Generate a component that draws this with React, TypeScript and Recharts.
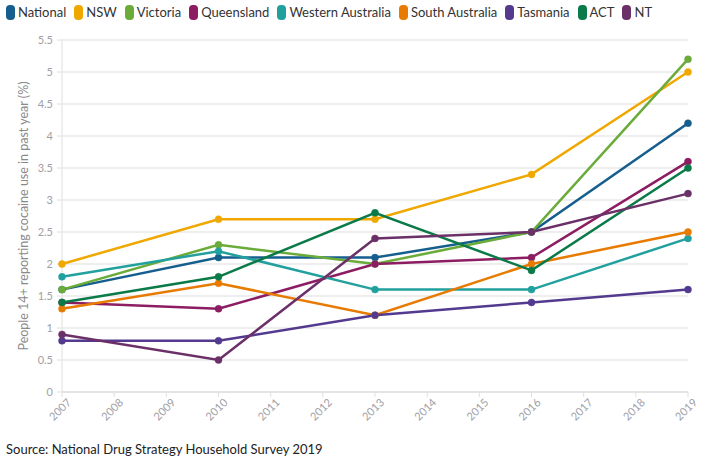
import React from "react";
import { LineChart, Line, XAxis, YAxis, CartesianGrid } from "recharts";

const years = [2007, 2010, 2013, 2016, 2019];
const yearTicks = [2007, 2008, 2009, 2010, 2011, 2012, 2013, 2014, 2015, 2016, 2017, 2018, 2019];
const yTicks = [0, 0.5, 1, 1.5, 2, 2.5, 3, 3.5, 4, 4.5, 5, 5.5];

const national = [1.6, 2.1, 2.1, 2.5, 4.2];
const nsw = [2.0, 2.7, 2.7, 3.4, 5.0];
const victoria = [1.6, 2.3, 2.0, 2.5, 5.2];
const queensland = [1.4, 1.3, 2.0, 2.1, 3.6];
const westernAustralia = [1.8, 2.2, 1.6, 1.6, 2.4];
const southAustralia = [1.3, 1.7, 1.2, 2.0, 2.5];
const tasmania = [0.8, 0.8, 1.2, 1.4, 1.6];
const act = [1.4, 1.8, 2.8, 1.9, 3.5];
const nt = [0.9, 0.5, 2.4, 2.5, 3.1];

const series = [
  { key: "National", values: national, color: "#155e8e" },
  { key: "NSW", values: nsw, color: "#f0a800" },
  { key: "Victoria", values: victoria, color: "#6aab3a" },
  { key: "Queensland", values: queensland, color: "#8c1d62" },
  { key: "Western Australia", values: westernAustralia, color: "#21a09e" },
  { key: "South Australia", values: southAustralia, color: "#e87a00" },
  { key: "Tasmania", values: tasmania, color: "#533a8f" },
  { key: "ACT", values: act, color: "#0a7a48" },
  { key: "NT", values: nt, color: "#6b3068" },
];

const data = years.map((y, i) => {
  const row: Record<string, number> = { year: y };
  series.forEach((s) => {
    row[s.key] = s.values[i];
  });
  return row;
});

const FONT = "Lato, 'Open Sans', sans-serif";

const XTick = (props: any) => {
  const { x, y, payload } = props;
  return (
    <g transform={`translate(${x},${y})`}>
      <text
        x={0}
        y={0}
        dy={10}
        dx={4}
        textAnchor="end"
        fill="#a0a0a8"
        fontSize={11}
        fontFamily={FONT}
        transform="rotate(-45)"
      >
        {payload.value}
      </text>
    </g>
  );
};

export default function App() {
  return (
    <div
      style={{
        position: "absolute",
        left: 0,
        top: 0,
        width: 708,
        height: 458,
        background: "#fff",
        fontFamily: FONT,
      }}
    >
      <div
        style={{
          position: "absolute",
          left: 6,
          top: 4,
          display: "flex",
          alignItems: "center",
          fontSize: 13,
          color: "#333",
          whiteSpace: "nowrap",
        }}
      >
        {series.map((s) => (
          <div key={s.key} style={{ display: "flex", alignItems: "center", marginRight: 8 }}>
            <span
              style={{
                display: "inline-block",
                width: 9,
                height: 15,
                borderRadius: 4,
                background: s.color,
                marginRight: 3,
              }}
            />
            <span>{s.key}</span>
          </div>
        ))}
      </div>
      <div style={{ position: "absolute", left: 0, top: 0 }}>
        <LineChart
          width={708}
          height={431}
          data={data}
          margin={{ top: 40, right: 20, bottom: 0, left: 10 }}
        >
          <CartesianGrid vertical={false} stroke="#e8e8e8" strokeWidth={1.5} />
          <XAxis
            dataKey="year"
            type="number"
            domain={[2007, 2019]}
            ticks={yearTicks}
            interval={0}
            height={39}
            tick={<XTick />}
            tickSize={5}
            stroke="#e0e0e0"
            axisLine={{ stroke: "#e0e0e0", strokeWidth: 1.5 }}
            tickLine={{ stroke: "#e0e0e0" }}
          />
          <YAxis
            type="number"
            domain={[0, 5.5]}
            ticks={yTicks}
            interval={0}
            width={52}
            tickSize={5}
            tickMargin={4}
            axisLine={{ stroke: "#e0e0e0" }}
            tickLine={{ stroke: "#e0e0e0" }}
            tick={{ fill: "#a0a0a8", fontSize: 11, fontFamily: FONT }}
            label={{
              value: "People 14+ reporting cocaine use in past year (%)",
              angle: -90,
              position: "insideLeft",
              offset: 0,
              dx: 14,
              style: { textAnchor: "middle", fill: "#8a8a8a", fontSize: 12.5, fontFamily: FONT },
            }}
          />
          {series.map((s) => (
            <Line
              key={s.key}
              dataKey={s.key}
              stroke={s.color}
              strokeWidth={2.5}
              dot={{ r: 3.5, fill: s.color, stroke: s.color, strokeWidth: 0.5 }}
              activeDot={false}
              isAnimationActive={false}
            />
          ))}
        </LineChart>
      </div>
      <div
        style={{
          position: "absolute",
          left: 6,
          top: 441,
          fontSize: 13,
          color: "#222",
        }}
      >
        Source: National Drug Strategy Household Survey 2019
      </div>
    </div>
  );
}
